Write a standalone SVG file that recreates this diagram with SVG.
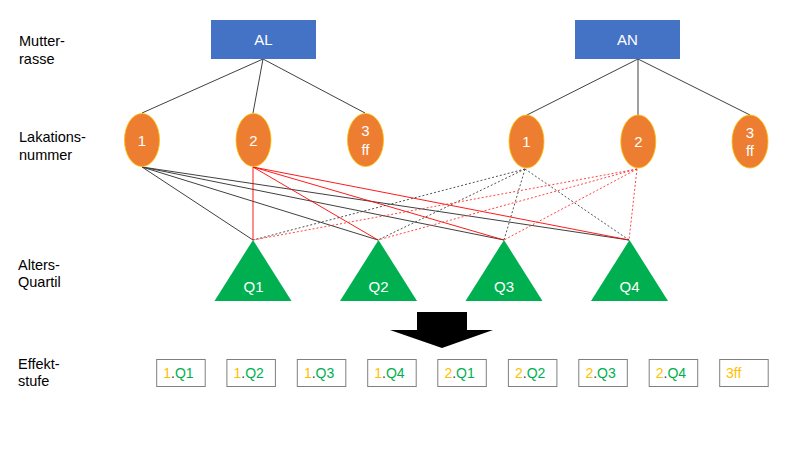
<svg xmlns="http://www.w3.org/2000/svg" width="800" height="450" viewBox="0 0 800 450">
  <style>
    .lbl { font-family: "Liberation Sans", Arial, sans-serif; font-size: 14.5px; fill: #000; }
    .node-txt { font-family: "Liberation Sans", Arial, sans-serif; font-size: 15px; fill: #fff; text-anchor: middle; }
    .breed { fill: #4472C4; }
    .lact { fill: #ED7D31; stroke: #FFC000; stroke-width: 0.8; }
    .quart { fill: #00B050; }
    .tree { stroke: #404040; stroke-width: 1; fill: none; }
    .al1 { stroke: #404040; stroke-width: 1; fill: none; }
    .al2 { stroke: #FF0000; stroke-width: 0.9; fill: none; }
    .an1 { stroke: #404040; stroke-width: 0.9; stroke-dasharray: 2 2; fill: none; }
    .an2 { stroke: #FF3030; stroke-width: 0.9; stroke-dasharray: 2 2; fill: none; }
    .box { fill: #fff; stroke: #7F7F7F; stroke-width: 1; }
    .box-txt { font-family: "Liberation Sans", Arial, sans-serif; font-size: 14px; }
    .num { fill: #FFC000; }
    .dot { fill: #404040; }
    .q { fill: #00B050; }
  </style>

  <!-- row labels -->
  <g id="row-labels">
    <text class="lbl" x="19" y="46">Mutter-</text>
    <text class="lbl" x="19" y="64">rasse</text>
    <text class="lbl" x="19" y="142">Lakations-</text>
    <text class="lbl" x="19" y="160">nummer</text>
    <text class="lbl" x="18" y="270">Alters-</text>
    <text class="lbl" x="18" y="287">Quartil</text>
    <text class="lbl" x="18" y="369">Effekt-</text>
    <text class="lbl" x="18" y="386">stufe</text>
  </g>

  <!-- connectors -->
  <g id="connectors">
    <path class="tree" d="M263,59 L142,113 M263,59 L253,113 M263,59 L365,113"/>
    <path class="tree" d="M638,59 L527,115 M638,59 L638,115 M638,59 L750,115"/>
    <path class="al1" d="M142,167 L253,240 M142,167 L378,240 M142,167 L504,240 M142,167 L629,240"/>
    <path class="al2" d="M253,167 L253,240 M253,167 L378,240 M253,167 L504,240 M253,167 L629,240"/>
    <path class="an1" d="M525,169 L253,240 M525,169 L378,240 M525,169 L504,240 M525,169 L629,240"/>
    <path class="an2" d="M637,169 L253,240 M637,169 L378,240 M637,169 L504,240 M637,169 L629,240"/>
  </g>

  <!-- breed nodes -->
  <g id="AL">
    <rect class="breed" x="211" y="20" width="105" height="39"/>
    <text class="node-txt" x="263.5" y="45">AL</text>
  </g>
  <g id="AN">
    <rect class="breed" x="575" y="20" width="105" height="39"/>
    <text class="node-txt" x="627.5" y="45">AN</text>
  </g>

  <!-- lactation nodes -->
  <g id="AL-1">
    <ellipse class="lact" cx="142" cy="140" rx="17.5" ry="26.5"/>
    <text class="node-txt" x="142" y="146">1</text>
  </g>
  <g id="AL-2">
    <ellipse class="lact" cx="253.5" cy="140" rx="17.5" ry="26.5"/>
    <text class="node-txt" x="253.5" y="146">2</text>
  </g>
  <g id="AL-3ff">
    <ellipse class="lact" cx="365.5" cy="140" rx="18" ry="26.5"/>
    <text class="node-txt" x="365.5" y="136">3</text>
    <text class="node-txt" x="365.5" y="154.5">ff</text>
  </g>
  <g id="AN-1">
    <ellipse class="lact" cx="526.5" cy="141.5" rx="17.5" ry="26.5"/>
    <text class="node-txt" x="526.5" y="147">1</text>
  </g>
  <g id="AN-2">
    <ellipse class="lact" cx="638.3" cy="141.5" rx="17.5" ry="26.5"/>
    <text class="node-txt" x="638.3" y="147">2</text>
  </g>
  <g id="AN-3ff">
    <ellipse class="lact" cx="750" cy="141.5" rx="18" ry="26.5"/>
    <text class="node-txt" x="750" y="137.5">3</text>
    <text class="node-txt" x="750" y="156">ff</text>
  </g>

  <!-- age quartile nodes -->
  <g id="Q1">
    <polygon class="quart" points="253,240 291.5,301 214.5,301"/>
    <text class="node-txt" x="253.5" y="292">Q1</text>
  </g>
  <g id="Q2">
    <polygon class="quart" points="378.5,240 417,301 340,301"/>
    <text class="node-txt" x="378.5" y="292">Q2</text>
  </g>
  <g id="Q3">
    <polygon class="quart" points="504,240 542.5,301 465.5,301"/>
    <text class="node-txt" x="504" y="292">Q3</text>
  </g>
  <g id="Q4">
    <polygon class="quart" points="629.5,240 668,301 591,301"/>
    <text class="node-txt" x="629.5" y="292">Q4</text>
  </g>

  <!-- block arrow -->
  <g id="arrow">
    <polygon fill="#000" points="417,312 467,312 467,330 493,330 442,348 390,330 417,330"/>
  </g>

  <!-- effect levels -->
  <g id="effects">
    <g id="E-1Q1"><rect class="box" x="156.7" y="359.5" width="48.5" height="27"/><text class="box-txt" x="163.3" y="377.5"><tspan class="num">1</tspan><tspan class="dot">.</tspan><tspan class="q">Q1</tspan></text></g>
    <g id="E-1Q2"><rect class="box" x="226.9" y="359.5" width="48.5" height="27"/><text class="box-txt" x="233.5" y="377.5"><tspan class="num">1</tspan><tspan class="dot">.</tspan><tspan class="q">Q2</tspan></text></g>
    <g id="E-1Q3"><rect class="box" x="297.3" y="359.5" width="48.5" height="27"/><text class="box-txt" x="303.9" y="377.5"><tspan class="num">1</tspan><tspan class="dot">.</tspan><tspan class="q">Q3</tspan></text></g>
    <g id="E-1Q4"><rect class="box" x="367.7" y="359.5" width="48.5" height="27"/><text class="box-txt" x="374.3" y="377.5"><tspan class="num">1</tspan><tspan class="dot">.</tspan><tspan class="q">Q4</tspan></text></g>
    <g id="E-2Q1"><rect class="box" x="437.8" y="359.5" width="48.5" height="27"/><text class="box-txt" x="444.4" y="377.5"><tspan class="num">2</tspan><tspan class="dot">.</tspan><tspan class="q">Q1</tspan></text></g>
    <g id="E-2Q2"><rect class="box" x="508.4" y="359.5" width="48.5" height="27"/><text class="box-txt" x="515" y="377.5"><tspan class="num">2</tspan><tspan class="dot">.</tspan><tspan class="q">Q2</tspan></text></g>
    <g id="E-2Q3"><rect class="box" x="578.8" y="359.5" width="48.5" height="27"/><text class="box-txt" x="585.4" y="377.5"><tspan class="num">2</tspan><tspan class="dot">.</tspan><tspan class="q">Q3</tspan></text></g>
    <g id="E-2Q4"><rect class="box" x="649.2" y="359.5" width="48.5" height="27"/><text class="box-txt" x="655.8" y="377.5"><tspan class="num">2</tspan><tspan class="dot">.</tspan><tspan class="q">Q4</tspan></text></g>
    <g id="E-3ff"><rect class="box" x="719.7" y="359.5" width="48.5" height="27"/><text class="box-txt" x="726" y="377.5"><tspan class="num">3ff</tspan></text></g>
  </g>
</svg>
